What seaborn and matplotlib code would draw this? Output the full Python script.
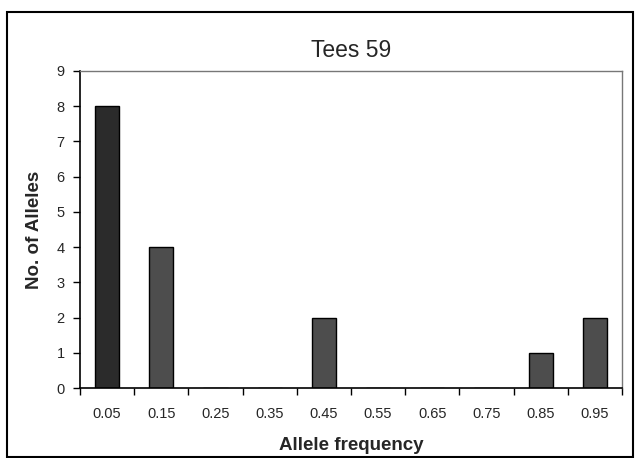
import matplotlib
matplotlib.use("Agg")
import matplotlib.pyplot as plt
import seaborn as sns
import pandas as pd
from matplotlib.patches import Rectangle
from matplotlib import font_manager

categories = ["0.05", "0.15", "0.25", "0.35", "0.45", "0.55", "0.65", "0.75", "0.85", "0.95"]
counts = [8, 4, 0, 0, 2, 0, 0, 0, 1, 2]
yticks = list(range(0, 10))

sns.set_theme(style="white")
names = {f.name for f in font_manager.fontManager.ttflist}
narrow = "Liberation Sans Narrow" if "Liberation Sans Narrow" in names else "Liberation Sans"
plt.rcParams['font.family'] = ['Liberation Sans', 'DejaVu Sans']

df = pd.DataFrame({"freq": categories, "n": counts})

fig = plt.figure(figsize=(6.37, 4.58), dpi=100)
ax = fig.add_axes([80/637, 1-388/458, (622-80)/637, (388-71)/458])

colors = ["#2b2b2b"] + ["#4d4d4d"] * (len(categories) - 1)
sns.barplot(data=df, x="freq", y="n", hue="freq", palette=colors, legend=False,
            width=0.45, edgecolor="black", linewidth=1.0, ax=ax)

ax.set_ylim(0, 9)
ax.set_xlim(-0.5, len(categories) - 0.5)
ax.set_yticks(yticks)
ax.set_yticklabels([str(v) for v in yticks], fontsize=10.5)
ax.set_xticks(range(len(categories)))
ax.set_xticklabels(categories, fontsize=10.5)
ax.set_xticks([i - 0.5 for i in range(len(categories) + 1)], minor=True)
ax.tick_params(axis="x", which="major", length=0, pad=14)
ax.tick_params(axis="x", which="minor", length=5, width=1, color="black", direction="out", bottom=True)
ax.tick_params(axis="y", which="major", length=5, width=1, color="black", direction="out", left=True, pad=6)

for side in ["left", "bottom"]:
    ax.spines[side].set_color("black")
    ax.spines[side].set_linewidth(1.2)
for side in ["top", "right"]:
    ax.spines[side].set_color("#777777")
    ax.spines[side].set_linewidth(1.0)

ax.set_xlabel("Allele frequency", fontsize=13.5, fontweight="bold", family=[narrow, 'DejaVu Sans'], labelpad=11)
ax.set_ylabel("No. of Alleles", fontsize=13.5, fontweight="bold", family=[narrow, 'DejaVu Sans'], labelpad=10)
ax.set_title("Tees 59", fontsize=16.5, pad=10)

fig.patches.append(Rectangle((7/637, 0.002), (633-7)/637, 1-12/458-0.002, transform=fig.transFigure,
                             fill=False, edgecolor="black", linewidth=1.5))

fig.savefig("out.png", dpi=100)
